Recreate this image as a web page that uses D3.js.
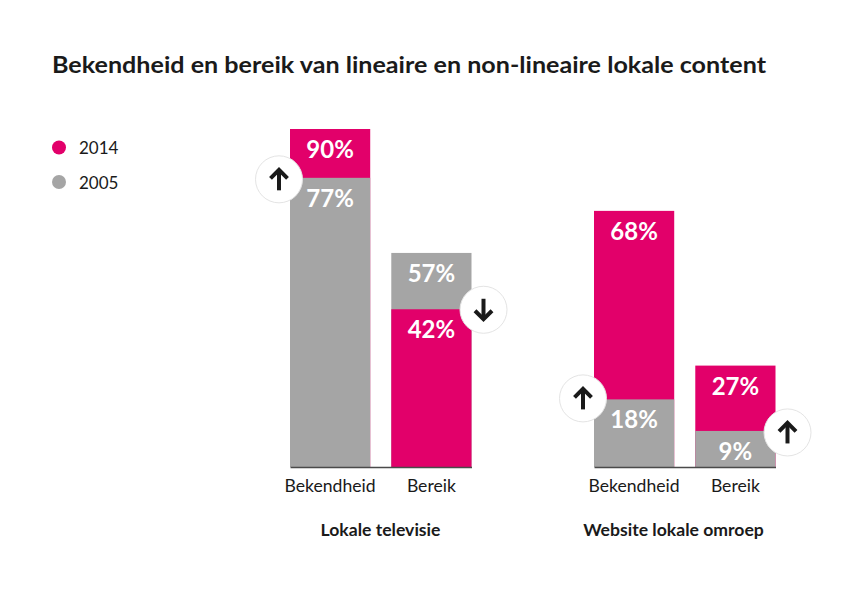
<!DOCTYPE html>
<html><head><meta charset="utf-8">
<script src="https://cdn.jsdelivr.net/npm/d3@7/dist/d3.min.js"></script>
<style>
html,body{margin:0;padding:0;background:#fff}
svg{display:block}
text{font-family:Lato,"Open Sans",sans-serif;fill:#1a1a1a}
</style></head><body>
<svg id="c" width="854" height="600"></svg>
<script>
const chartTitle = "Bekendheid en bereik van lineaire en non-lineaire lokale content";
const groups = ["Lokale televisie", "Website lokale omroep"];
const categories = ["Bekendheid", "Bereik"];
const years = ["2014", "2005"];
// heights as drawn in the picture
const values2014 = [[90, 42], [68.2, 27]];
const values2005 = [[77, 57], [18, 9.6]];
// labels as printed in the picture
const labels2014 = [["90%", "42%"], ["68%", "27%"]];
const labels2005 = [["77%", "57%"], ["18%", "9%"]];

const pink = "#e2006a", gray = "#a5a5a5", ink = "#1a1a1a";
const svg = d3.select("#c");
const baseY = 467;
const y = d3.scaleLinear().domain([0, 90]).range([baseY, 129]);
const groupX = d3.scaleBand().domain(groups).range([290, 898]);
const inner = d3.scaleBand().domain(categories).range([0, 181.5]).paddingInner(0.208).paddingOuter(0);
const colour = d3.scaleOrdinal().domain(years).range([pink, gray]);

svg.append("text").attr("x", 52).attr("y", 73).attr("font-size", 23.4)
   .attr("font-weight", 700).attr("textLength", 714).attr("lengthAdjust", "spacingAndGlyphs").text(chartTitle);

// legend
const legendY = d3.scalePoint().domain(years).range([147.5, 182]);
years.forEach(yr => {
  svg.append("circle").attr("cx", 59).attr("cy", legendY(yr)).attr("r", 7).attr("fill", colour(yr));
  svg.append("text").attr("x", 79).attr("y", legendY(yr) + 6.5).attr("font-size", 17).text(yr);
});

const badgeNudge = [[1.5, 0.5], [-1, 1.5]];
const titleNudge = [0, -11];

groups.forEach((g, gi) => {
  const gr = svg.append("g").attr("transform", `translate(${groupX(g)},0)`);
  const rows = categories.map((c, ci) => ({
    c, ci,
    a: values2014[gi][ci], b: values2005[gi][ci],
    la: labels2014[gi][ci], lb: labels2005[gi][ci]
  }));

  rows.forEach(r => {
    const segs = [{yr: "2014", v: r.a, l: r.la}, {yr: "2005", v: r.b, l: r.lb}].sort((p, q) => q.v - p.v);
    segs.forEach(s => {
      gr.append("rect").attr("x", inner(r.c)).attr("width", inner.bandwidth())
        .attr("y", y(s.v)).attr("height", baseY - y(s.v)).attr("fill", colour(s.yr));
    });
    segs.forEach(s => {
      gr.append("text").attr("x", inner(r.c) + inner.bandwidth() / 2).attr("y", y(s.v) + 29)
        .attr("text-anchor", "middle").attr("font-size", 24).attr("font-weight", 700)
        .style("fill", "#fff").text(s.l);
    });
  });

  // axis
  const ax = gr.append("g").attr("transform", `translate(0,${baseY})`)
    .call(d3.axisBottom(inner).tickSize(0).tickPadding(13));
  ax.select(".domain").attr("stroke", "#4a4a4a").attr("stroke-width", 1.5);
  ax.selectAll("text").attr("font-size", 17.6).style("font-family", "Lato,'Open Sans',sans-serif").style("fill", ink);

  // change badges
  rows.forEach(r => {
    const up = r.a > r.b;
    const cy = y(Math.min(r.a, r.b)) + badgeNudge[gi][r.ci];
    const cx = r.ci === 0 ? inner(r.c) - 11 : inner(r.c) + inner.bandwidth() + 12;
    const b = gr.append("g").attr("transform", `translate(${cx},${cy})`);
    b.append("circle").attr("r", 23.5).attr("fill", "#fff").attr("stroke", "#e4e4e4").attr("stroke-width", 1);
    const s = up ? 1 : -1;
    b.append("path").attr("d", d3.line()([[0, 11 * s], [0, -9 * s]])).attr("stroke", ink).attr("stroke-width", 4).attr("fill", "none");
    b.append("path").attr("d", d3.line()([[-8.5, -1 * s], [0, -9.5 * s], [8.5, -1 * s]])).attr("stroke", ink).attr("stroke-width", 4).attr("fill", "none");
  });

  gr.append("text").attr("x", 90.5 + titleNudge[gi]).attr("y", 536).attr("text-anchor", "middle")
    .attr("font-size", 17.6).attr("font-weight", 700).text(g);
});
</script>
</body></html>
